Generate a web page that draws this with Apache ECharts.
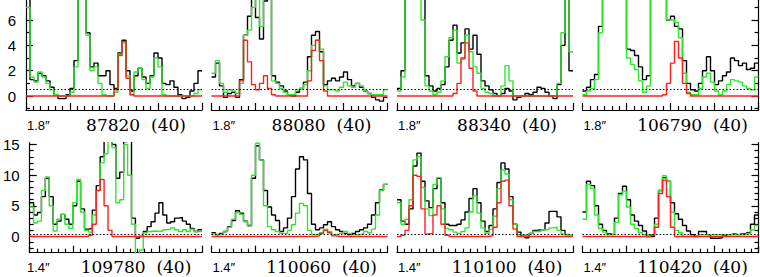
<!DOCTYPE html>
<html><head><meta charset="utf-8">
<script src="https://cdn.jsdelivr.net/npm/echarts/dist/echarts.min.js"></script>
<style>html,body{margin:0;padding:0;background:#fff}#c{width:760px;height:277px}</style>
</head><body><div id="c"></div>
<script>
// ---------- data ----------
const panelNames = ['87820', '88080', '88340', '106790', '109780', '110060', '110100', '110420'];
const panelWidthLabels = ['(40)', '(40)', '(40)', '(40)', '(40)', '(40)', '(40)', '(40)'];
const apertures = ['1.8\u2033', '1.8\u2033', '1.8\u2033', '1.8\u2033', '1.4\u2033', '1.4\u2033', '1.4\u2033', '1.4\u2033'];
const rowRange = [[-1.1, 7.58], [-2.65, 15.3]];
const rowMajorTicks = [[0, 2, 4, 6], [0, 5, 10, 15]];
const rowMinorTicks = [[-1, 1, 3, 5, 7], [-2, -1, 1, 2, 3, 4, 6, 7, 8, 9, 11, 12, 13, 14]];
const dottedLevels = [0.5, 0.4];

const black_87820 = [8, 1.3, 1.2, 1.8, 1.6, 1.2, 0.7, 0.1, -0.2, -0.2, 0.1, 0.6, 2.8, 9, 9, 5, 2.3, 2.6, 1.6, 1.6, 2.0, 0.9, 0.6, 3.4, 4.4, 2.0, 0.4, 1.6, 2.2, 1.5, 1.0, 1.6, 3.4, 3.0, 1.0, 0.9, 1.2, 0.7, 0.1, -0.2, -0.1, 0.4, 1.0, 2.0];
const green_87820 = [7, 1.5, 1.1, 1.9, 1.5, 1.0, 0.5, 0.1, 0, 0, 0, 0.3, 2.3, 9, 9, 4.8, 2.0, 2.3, 1.0, 0.1, 0, 0, 0.3, 3.3, 4.2, 1.6, 0.1, 1.9, 2.2, 1.3, 0.6, 1.5, 3.0, 2.3, 0.1, 0, 0, 0, 0, 0, 0, 0, 0.2, 0.5];
const red_87820 = [0, 0, 0, 0, 0, 0, 0, 0, 0, 0, 0, 0, 0, 0, 0, 0, 0, 0, 0, 0, 0, 0, 0.5, 3.2, 4.3, 1.4, 0.1, 0, 0, 0, 0, 0, 0, 0, 0, 0, 0, 0, 0, 0, 0, 0, 0, 0];

const black_88080 = [1.5, 2.6, 0.8, -0.1, 0.2, 0.3, -0.1, 1.3, 4.8, 6.3, 9, 6.2, 4.5, 7.5, 9, 1.6, 1.1, 0.8, 0.4, 0.1, 0.0, 0.3, 0.6, 1.1, 3.1, 4.8, 5.1, 3.5, 0.9, 1.2, 1.4, 1.2, 1.5, 1.9, 1.3, 0.8, 1.0, 0.7, 0.4, 0.2, -0.1, -0.3, -0.4, -0.1];
const green_88080 = [1.8, 2.8, 1.0, 0.3, 0.5, 0.4, 0.2, 1.0, 4.8, 5.2, 7.0, 9, 5.5, 9, 9, 1.2, 1.0, 0.6, 0.3, 0.1, 0.1, 0.5, 0.6, 0.9, 2.0, 4.0, 4.4, 3.7, 0.8, 0.5, 0.5, 0.4, 0.7, 1.1, 0.8, 0.7, 1.0, 0.8, 0.4, 0.2, 0.1, 0.1, 0.1, 0.5];
const red_88080 = [0, 0, 0, 0, 0, 0, 0, 1.2, 4.4, 2.7, 0.9, 0.5, 1.0, 1.6, 0.6, 0.1, 0, 0, 0, 0, 0, 0, 0, 0, 1.2, 3.6, 4.4, 2.8, 0.4, 0, 0, 0, 0, 0, 0, 0, 0, 0, 0, 0, 0, 0, 0, 0];

const black_88340 = [0.6, 2.0, 9, 9, 9, 9, 8, 1.6, 0.8, 0.4, 0.6, 0.9, 2.3, 4.4, 5.6, 3.4, 4.2, 5.3, 3.7, 4.8, 3.3, 1.2, 0.8, 0.5, 0.2, 0.0, 0.2, 0.6, 0.4, -0.3, -0.1, 0.0, 0.2, 0.1, 0.3, 0.7, 0.6, 0.3, 0.0, -0.2, 0.9, 4.0, 9, 2.0];
const green_88340 = [0.4, 1.5, 9, 9, 9, 9, 6.0, 0.8, 0.4, 0.1, 0.3, 1.2, 3.1, 4.6, 5.2, 2.6, 2.9, 4.8, 3.5, 2.3, 1.8, 0.6, 0.3, 0.2, 0.0, 0.0, 0.8, 2.4, 1.2, 0.0, 0, 0, 0, 0, 0, 0, 0, 0, 0, 0, 1.0, 5.0, 9, 3.5];
const red_88340 = [0, 0, 0, 0, 0, 0, 0, 0, 0, 0, 0, 0, 0, 0, 0.2, 1.0, 3.0, 4.2, 2.2, 0.4, 0, 0, 0, 0, 0, 0, 0, 0, 0, 0, 0, 0, 0, 0, 0, 0, 0, 0, 0, 0, 0, 0, 0, 0];

const black_106790 = [0.4, 0.7, 1.3, 1.7, 5.5, 9, 9, 9, 9, 9, 9, 3.7, 3.6, 3.2, 2.3, 1.3, 1.6, 9, 9, 9, 9, 6.0, 6.3, 5.5, 5.3, 2.8, 1.0, 0.5, 0.4, 1.0, 2.0, 3.1, 2.0, 0.9, 1.2, 1.6, 1.9, 3.0, 2.8, 2.4, 2.6, 2.1, 2.2, 2.6];
const green_106790 = [0.1, 0.4, 0.6, 1.3, 5.0, 9, 9, 9, 9, 9, 9, 3.0, 2.5, 2.1, 1.2, 0.3, 0.8, 9, 9, 9, 9, 6.0, 6.0, 5.8, 4.6, 1.8, 0.3, 0.1, 0.1, 0.6, 1.5, 1.8, 1.1, 0.4, 0.1, 0.4, 0.9, 1.3, 1.2, 1.1, 0.8, 0.6, 0.5, 1.5];
const red_106790 = [0, 0, 0, 0, 0, 0, 0, 0, 0, 0, 0, 0, 0, 0, 0, 0, 0, 0, 0, 0, 0.1, 1.0, 2.6, 4.3, 3.0, 1.0, 0.2, 0, 0, 0, 0, 0, 0, 0, 0, 0, 0, 0, 0, 0, 0, 0, 0, 0];

const black_109780 = [5.5, 3.5, 3.9, 6.5, 9.5, 6.5, 2.0, 2.5, 3.6, 2.8, 2.0, 5.0, 9.0, 4.5, 1.2, 1.3, 4.3, 8.3, 13.0, 16, 16, 15, 9.5, 10.5, 15.5, 16, 3.0, -0.3, 0.0, 0.8, 1.6, 2.4, 3.8, 5.5, 3.5, 2.2, 2.4, 3.0, 3.1, 2.5, 2.0, 1.3, 0.8, 1.1];
const green_109780 = [4.8, 2.2, 2.5, 7.5, 9.7, 5.0, 0.9, 2.8, 3.6, 2.0, 1.3, 5.5, 9.3, 4.0, 1.0, 0.7, 3.5, 7.5, 12, 13.5, 16, 14.5, 5.5, 6.0, 15, 10, 2.0, -3, -2.2, 0.6, 0.8, 0.9, 0.8, 0.9, 1.1, 1.2, 1.4, 1.1, 0.8, 1.1, 0.8, 1.2, 0.8, 0.8];
const red_109780 = [0, 0, 0, 0, 0, 0, 0, 0, 0, 0, 0, 0, 0, 0, 0, 0.2, 2.0, 7.5, 9.3, 5.0, 1.0, 0, 0, 0, 0, 0, 0, 0, 0, 0, 0, 0, 0, 0, 0, 0, 0, 0, 0, 0, 0, 0, 0, 0];

const black_110060 = [0.6, 0.3, 0.5, 0.8, 1.6, 2.6, 4.2, 3.8, 2.5, 1.8, 9.5, 14.8, 12.5, 7.5, 4.8, 3.5, 2.6, 0.8, 1.4, 3.0, 6.5, 11, 13, 12.5, 7, 2.0, 1.1, 1.4, 1.9, 2.4, 1.6, 1.1, 0.8, 0.5, 0.3, 0.5, 0.8, 1.1, 1.4, 2.0, 3.5, 5.5, 7.6, 8.5];
const green_110060 = [0.4, 0.3, 0.4, 0.8, 1.5, 2.8, 3.9, 3.6, 2.4, 1.7, 10, 15.2, 12.5, 5, 1.6, 1.1, 0.8, 0.5, 0.5, 1.0, 1.9, 3.8, 5.4, 5.0, 1.0, 0.3, 0.4, 0.6, 1.2, 0.8, 0.3, 0.3, 0.5, 0.8, 0.5, 0.3, 0.3, 0.4, 0.8, 0.6, 1.2, 3.5, 7.5, 8.5];
const red_110060 = [0, 0, 0, 0, 0, 0, 0, 0, 0, 0, 0, 0, 0, 0, 0, 0, 0, 0, 0, 0, 0, 0, 0, 0, 0, 0, 0.1, 0.5, 1.0, 0.6, 0.1, 0, 0, 0, 0, 0, 0, 0, 0, 0, 0, 0, 0, 0];

const black_110100 = [6, 2.5, 2.0, 4.5, 11.5, 13.6, 9, 5.8, 4.7, 7.8, 9.5, 5.5, 2.0, 1.8, 1.8, 2.0, 2.7, 4.0, 6.2, 7.8, 5.5, 2.5, 0.8, 1.8, 4.5, 8.8, 12, 11, 6.5, 2.0, 0.7, 0.1, -0.2, 0.5, 1.0, 1.1, 1.1, 2.2, 4.1, 4.1, 3.2, 1.0, 0.3, 0.3];
const green_110100 = [5.5, 2.0, 2.8, 6, 12.5, 13, 8, 4.5, 3.4, 8.5, 9.6, 4.5, 1.3, 1.1, 0.7, 0.5, 0.8, 1.4, 4.0, 6.6, 3.8, 1.4, 0.5, 1.2, 3.3, 7.8, 10.8, 10.2, 6.0, 2.0, 0.3, 0.2, 0.3, 0.5, 0.8, 0.8, 1.1, 1.1, 1.4, 1.5, 1.0, 0.4, 0.3, 0.3];
const red_110100 = [0, 0.2, 1.0, 5.0, 10.0, 9.8, 4.5, 0.4, 0.5, 3.5, 5.0, 2.0, 0.2, 0, 0, 0, 0, 0, 0, 0, 0, 0, 0, 0.1, 1.5, 5.5, 9.0, 9.2, 5.0, 1.2, 0, 0, 0, 0, 0, 0, 0, 0, 0, 0, 0, 0, 0, 0];

const black_110420 = [4.0, 9.0, 8.3, 5.0, 2.0, 1.0, 0.4, 0.3, 3.0, 7.0, 8.2, 6.0, 3.5, 2.5, 1.8, 0.9, 0.0, 0.0, 3.0, 7.5, 9.6, 9.0, 5.5, 3.7, 2.8, 1.8, 0.9, 0.3, 0.0, 0.8, 0.8, 0.3, -0.3, -0.3, -0.2, 0.1, 0.3, 0.4, 0.3, 0.4, 0.4, 0.6, 2.0, 3.5];
const green_110420 = [2.8, 8.5, 7.8, 3.5, 1.3, 0.7, 0.3, 0.3, 2.3, 6.8, 7.4, 4.8, 2.0, 1.3, 0.6, 0.3, 0.3, 0.3, 2.0, 7.5, 9.9, 9.0, 4.0, 1.0, 0.6, 0.0, 0.0, 0.0, 0.0, 0.3, 0.3, 0.3, 0.3, 0.3, 0.3, 0.3, 0.3, 0.3, 0.3, 0.3, 0.3, 0.5, 1.1, 1.8];
const red_110420 = [0, 0, 0, 0, 0, 0, 0, 0, 0, 0, 0, 0, 0, 0, 0, 0, 0, 0.2, 1.5, 7.0, 9.2, 6.5, 1.5, 0, 0, 0, 0, 0, 0, 0, 0, 0, 0, 0, 0, 0, 0, 0, 0, 0, 0, 0, 0, 0];

const blackSpectra = [black_87820, black_88080, black_88340, black_106790, black_109780, black_110060, black_110100, black_110420];
const greenSpectra = [green_87820, green_88080, green_88340, green_106790, green_109780, green_110060, green_110100, green_110420];
const redSpectra = [red_87820, red_88080, red_88340, red_106790, red_109780, red_110060, red_110100, red_110420];

// ---------- layout / style ----------
const colLeft = [26, 211.5, 397, 582.5];
const panelW = 176, panelH = 110;
const rowTop = [0, 142.7];
const rowLabelY = [125, 267];
const BLACK = '#000000', GREEN = '#2ee62e', RED = '#ff1f1f';

function stepData(vals) {
  const d = vals.map((v, i) => [i, v]);
  d.push([vals.length, vals[vals.length - 1]]);
  return d;
}

const option = { animation: false, grid: [], xAxis: [], yAxis: [], series: [], graphic: [] };

for (let p = 0; p < 8; p++) {
  const r = Math.floor(p / 4), c = p % 4;
  const nBins = blackSpectra[p].length;
  option.grid.push({ left: colLeft[c], top: rowTop[r], width: panelW, height: panelH });
  option.xAxis.push({
    gridIndex: p, type: 'value', min: 0, max: nBins, interval: nBins / 4,
    axisLine: { show: true, onZero: false, lineStyle: { color: BLACK, width: 1.2 } },
    axisTick: { show: true, inside: true, length: 7, lineStyle: { color: BLACK, width: 1.2 } },
    minorTick: { show: true, splitNumber: 6, length: 4, lineStyle: { color: BLACK, width: 1.2 } },
    axisLabel: { show: false }, splitLine: { show: false }, minorSplitLine: { show: false }
  });
  const edge = c === 0 ? 'left' : (c === 3 ? 'right' : null);
  const mainIdx = option.yAxis.length;
  option.yAxis.push({
    gridIndex: p, type: 'value', min: rowRange[r][0], max: rowRange[r][1],
    position: edge || 'left', show: edge !== null,
    axisLine: { show: true, onZero: false, lineStyle: { color: BLACK, width: 1.2 } },
    axisTick: { show: true, inside: true, length: 7, customValues: rowMajorTicks[r], lineStyle: { color: BLACK, width: 1.2 } },
    axisLabel: { show: c === 0, customValues: rowMajorTicks[r], color: BLACK, fontSize: 15,
                 fontFamily: '"Liberation Sans", Arial, sans-serif', margin: 10 },
    splitLine: { show: false }
  });
  if (edge) {
    option.yAxis.push({
      gridIndex: p, type: 'value', min: rowRange[r][0], max: rowRange[r][1], position: edge,
      axisLine: { show: false, onZero: false },
      axisTick: { show: true, inside: true, length: 4, customValues: rowMinorTicks[r], lineStyle: { color: BLACK, width: 1.2 } },
      axisLabel: { show: false }, splitLine: { show: false }
    });
  }
  const common = { type: 'line', step: 'end', xAxisIndex: p, yAxisIndex: mainIdx, symbol: 'none', clip: true, silent: true };
  option.series.push(Object.assign({}, common, {
    name: panelNames[p] + ' black', data: stepData(blackSpectra[p]), z: 2,
    lineStyle: { color: BLACK, width: 1.4 },
    markLine: { silent: true, symbol: ['none', 'none'], label: { show: false },
                lineStyle: { color: BLACK, width: 1.2, type: [1.5, 2] },
                data: [{ yAxis: dottedLevels[r] }] }
  }));
  option.series.push(Object.assign({}, common, {
    name: panelNames[p] + ' green', data: stepData(greenSpectra[p]), z: 3,
    lineStyle: { color: GREEN, width: 1.4 }
  }));
  option.series.push(Object.assign({}, common, {
    name: panelNames[p] + ' red', data: stepData(redSpectra[p]), z: 4,
    lineStyle: { color: RED, width: 1.4 }
  }));
  option.graphic.push({
    type: 'text', x: colLeft[c] + 1, y: rowLabelY[r],
    style: { text: apertures[p], font: '13px "Liberation Sans", "DejaVu Sans", sans-serif', fill: BLACK,
             textAlign: 'left', textVerticalAlign: 'middle', align: 'left', verticalAlign: 'middle' }
  });
  option.graphic.push({
    type: 'text', x: colLeft[c] + 110, y: rowLabelY[r],
    style: { text: panelNames[p] + '  ' + panelWidthLabels[p], font: '17px "DejaVu Serif", serif', fill: BLACK,
             textAlign: 'center', textVerticalAlign: 'middle', align: 'center', verticalAlign: 'middle' }
  });
}

const chart = echarts.init(document.getElementById('c'), null, { renderer: 'svg' });
chart.setOption(option);
</script></body></html>
